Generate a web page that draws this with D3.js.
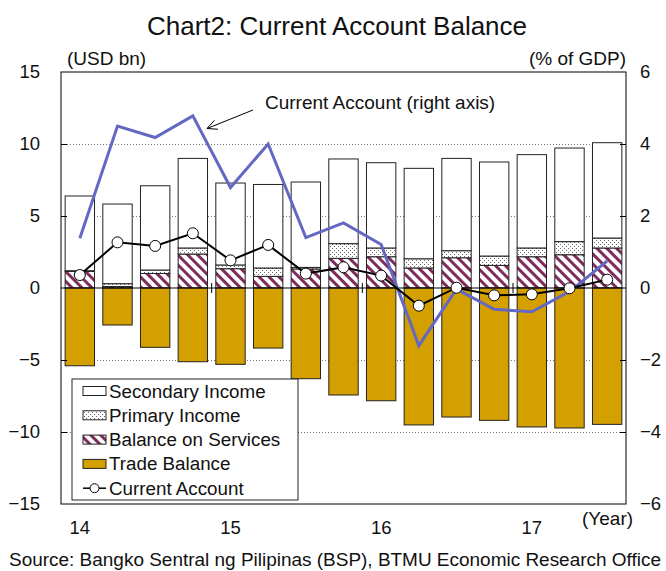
<!DOCTYPE html>
<html>
<head>
<meta charset="utf-8">
<script src="https://cdn.jsdelivr.net/npm/d3@7"></script>
<style>
  html, body { margin: 0; padding: 0; background: #fff; }
  svg { display: block; font-family: "Liberation Sans", Arial, sans-serif; }
</style>
</head>
<body>
<svg id="chart" width="666" height="571"></svg>
<script>
// Philippines current account by quarter, 2014Q1 - 2017Q3
const quarters = ["14Q1","14Q2","14Q3","14Q4","15Q1","15Q2","15Q3","15Q4",
                  "16Q1","16Q2","16Q3","16Q4","17Q1","17Q2","17Q3"];
const yearLabels = [["14Q1","14"],["15Q1","15"],["16Q1","16"],["17Q1","17"]];

// USD bn
const tradeBalance   = [-5.40,-2.57,-4.12,-5.12,-5.30,-4.17,-6.30,-7.43,-7.83,-9.51,-8.96,-9.19,-9.65,-9.72,-9.47];
const services       = [1.15, 0.10, 1.01, 2.36, 1.34, 0.81, 1.32, 2.06, 2.17, 1.39, 2.10, 1.57, 2.17, 2.31, 2.78];
const primaryIncome  = [0.05, 0.20, 0.24, 0.42, 0.26, 0.58, 0.11, 1.02, 0.61, 0.64, 0.49, 0.65, 0.61, 0.91, 0.69];
const secondaryIncome= [5.19, 5.53, 5.85, 6.22, 5.69, 5.80, 5.93, 5.88, 5.92, 6.28, 6.41, 6.53, 6.48, 6.50, 6.62];
const currentAccount = [0.90, 3.17, 2.92, 3.80, 1.92, 2.99, 1.00, 1.44, 0.86,-1.23, 0.02,-0.51,-0.44,-0.02, 0.58];
// % of GDP
const currentAccountGdp = [1.38, 4.50, 4.18, 4.78, 2.79, 4.00, 1.40, 1.81, 1.21,-1.60,-0.03,-0.59,-0.66,-0.10, 0.75];

const leftTicks  = [15, 10, 5, 0, -5, -10, -15];
const rightTicks = [6, 4, 2, 0, -2, -4, -6];

const svg = d3.select("#chart");
const plot = { left: 61, right: 626, top: 72, bottom: 504 };

const x = d3.scaleBand().domain(quarters)
  .range([plot.left, plot.right]).paddingInner(0.22).paddingOuter(0.11);
const y = d3.scaleLinear().domain([-15, 15]).range([plot.bottom, plot.top]);
const y2 = d3.scaleLinear().domain([-6, 6]).range([plot.bottom, plot.top]);

const GOLD = "#d4a000", MAROON = "#7e2c5c", BLUE = "#6468c2";

// fill patterns
const defs = svg.append("defs");
const hatch = defs.append("pattern").attr("id", "hatch")
  .attr("patternUnits", "userSpaceOnUse").attr("width", 7).attr("height", 7)
  .attr("patternTransform", "rotate(-45)");
hatch.append("rect").attr("width", 7).attr("height", 7).attr("fill", "#fff");
hatch.append("rect").attr("width", 3).attr("height", 7).attr("fill", MAROON);

const dots = defs.append("pattern").attr("id", "dots")
  .attr("patternUnits", "userSpaceOnUse").attr("width", 4).attr("height", 4);
dots.append("rect").attr("width", 4).attr("height", 4).attr("fill", "#fff");
dots.append("rect").attr("x", 0).attr("y", 0).attr("width", 1).attr("height", 1).attr("fill", "#666");
dots.append("rect").attr("x", 2).attr("y", 2).attr("width", 1).attr("height", 1).attr("fill", "#666");

// title
svg.append("text").attr("x", 337).attr("y", 35).attr("text-anchor", "middle")
  .attr("font-size", 26).attr("fill", "#111").text("Chart2: Current Account Balance");

svg.append("text").attr("x", 67).attr("y", 65).attr("font-size", 19).attr("fill", "#111").text("(USD bn)");
svg.append("text").attr("x", 626).attr("y", 65).attr("text-anchor", "end")
  .attr("font-size", 19).attr("fill", "#111").text("(% of GDP)");

// gridlines
svg.append("g").selectAll("line").data([10, 5, -5, -10]).join("line")
  .attr("x1", plot.left).attr("x2", plot.right)
  .attr("y1", d => y(d) + 0.5).attr("y2", d => y(d) + 0.5)
  .attr("stroke", "#777").attr("stroke-width", 1).attr("stroke-dasharray", "1,2");

// stacked bars
const stackDefs = [
  { key: "services", vals: services, fill: "url(#hatch)" },
  { key: "primary", vals: primaryIncome, fill: "url(#dots)" },
  { key: "secondary", vals: secondaryIncome, fill: "#fff" }
];
const bars = svg.append("g");
quarters.forEach((q, i) => {
  let base = 0;
  stackDefs.forEach(s => {
    const v = s.vals[i];
    bars.append("rect")
      .attr("x", x(q)).attr("width", x.bandwidth())
      .attr("y", y(base + v)).attr("height", y(base) - y(base + v))
      .attr("fill", s.fill).attr("stroke", "#222").attr("stroke-width", 1);
    base += v;
  });
  bars.append("rect")
    .attr("x", x(q)).attr("width", x.bandwidth())
    .attr("y", y(0)).attr("height", y(tradeBalance[i]) - y(0))
    .attr("fill", GOLD).attr("stroke", "#222").attr("stroke-width", 1);
});

// zero line and year separators
svg.append("line").attr("x1", plot.left).attr("x2", plot.right)
  .attr("y1", y(0)).attr("y2", y(0)).attr("stroke", "#000").attr("stroke-width", 1.2);
svg.append("g").selectAll("line").data(["15Q1", "16Q1", "17Q1"]).join("line")
  .attr("x1", d => x(d) - x.step() * x.paddingInner() / 2)
  .attr("x2", d => x(d) - x.step() * x.paddingInner() / 2)
  .attr("y1", y(0) - 5).attr("y2", y(0) + 5).attr("stroke", "#000");

// frame
svg.append("rect").attr("x", plot.left).attr("y", plot.top)
  .attr("width", plot.right - plot.left).attr("height", plot.bottom - plot.top)
  .attr("fill", "none").attr("stroke", "#000").attr("stroke-width", 1);

// axes
const leftAxis = d3.axisLeft(y).tickValues(leftTicks).tickSize(-6).tickPadding(21);
const gl = svg.append("g").attr("transform", `translate(${plot.left},0)`).call(leftAxis);
const rightAxis = d3.axisRight(y2).tickValues(rightTicks).tickSize(-6).tickPadding(14);
const gr = svg.append("g").attr("transform", `translate(${plot.right},0)`).call(rightAxis);
[gl, gr].forEach(g => {
  g.select(".domain").remove();
  g.selectAll("text").attr("font-size", 18.5).attr("fill", "#111")
    .attr("font-family", "Liberation Sans, Arial, sans-serif");
  g.selectAll("line").attr("stroke", "#000");
});
gl.selectAll(".tick").filter(d => d === 15 || d === -15 || d === 0).select("line").remove();
gr.selectAll(".tick").filter(d => d === 6 || d === -6 || d === 0).select("line").remove();

// year labels
svg.append("g").selectAll("text").data(yearLabels).join("text")
  .attr("x", d => x(d[0]) + x.bandwidth() / 2).attr("y", 534)
  .attr("text-anchor", "middle").attr("font-size", 18.5).attr("fill", "#111").text(d => d[1]);
svg.append("text").attr("x", 582).attr("y", 525).attr("font-size", 19).attr("fill", "#111").text("(Year)");

// current account, % of GDP (right axis)
const cx = (d, i) => x(quarters[i]) + x.bandwidth() / 2;
svg.append("path").datum(currentAccountGdp)
  .attr("d", d3.line().x(cx).y(d => y2(d)))
  .attr("fill", "none").attr("stroke", BLUE).attr("stroke-width", 3).attr("stroke-linejoin", "miter");

// current account, USD bn
svg.append("path").datum(currentAccount)
  .attr("d", d3.line().x(cx).y(d => y(d)))
  .attr("fill", "none").attr("stroke", "#000").attr("stroke-width", 2);
svg.append("g").selectAll("circle").data(currentAccount).join("circle")
  .attr("cx", cx).attr("cy", d => y(d)).attr("r", 5.5)
  .attr("fill", "#fff").attr("stroke", "#000").attr("stroke-width", 1);

// annotation
svg.append("text").attr("x", 265).attr("y", 109).attr("font-size", 19).attr("fill", "#111")
  .text("Current Account (right axis)");
const ax1 = 253, ay1 = 110, ax2 = 207, ay2 = 128.5;
svg.append("line").attr("x1", ax1).attr("y1", ay1).attr("x2", ax2).attr("y2", ay2)
  .attr("stroke", "#000").attr("stroke-width", 1);
const ang = Math.atan2(ay1 - ay2, ax1 - ax2);
[0.45, -0.45].forEach(o => {
  svg.append("line").attr("x1", ax2).attr("y1", ay2)
    .attr("x2", ax2 + 11 * Math.cos(ang + o)).attr("y2", ay2 + 11 * Math.sin(ang + o))
    .attr("stroke", "#000").attr("stroke-width", 1);
});

// legend
const legend = svg.append("g");
legend.append("rect").attr("x", 72).attr("y", 379).attr("width", 226).attr("height", 121)
  .attr("fill", "#fff").attr("stroke", "#222").attr("stroke-width", 1);
const legendItems = [
  { label: "Secondary Income", fill: "#fff" },
  { label: "Primary Income", fill: "url(#dots)" },
  { label: "Balance on Services", fill: "url(#hatch)" },
  { label: "Trade Balance", fill: GOLD },
  { label: "Current Account", line: true }
];
legendItems.forEach((it, i) => {
  const cy = 391 + i * 24.3;
  if (it.line) {
    legend.append("line").attr("x1", 83).attr("x2", 106).attr("y1", cy).attr("y2", cy)
      .attr("stroke", "#000").attr("stroke-width", 1.5);
    legend.append("circle").attr("cx", 94.5).attr("cy", cy).attr("r", 4.5)
      .attr("fill", "#fff").attr("stroke", "#000");
  } else {
    legend.append("rect").attr("x", 83).attr("y", cy - 4.5).attr("width", 23).attr("height", 9)
      .attr("fill", it.fill).attr("stroke", "#222").attr("stroke-width", 1);
  }
  legend.append("text").attr("x", 109).attr("y", cy + 6.5).attr("font-size", 18.8)
    .attr("fill", "#111").text(it.label);
});

// source
svg.append("text").attr("x", 9).attr("y", 566).attr("font-size", 17.5).attr("fill", "#111")
  .attr("textLength", 652).attr("lengthAdjust", "spacingAndGlyphs")
  .text("Source: Bangko Sentral ng Pilipinas (BSP), BTMU Economic Research Office");
</script>
</body>
</html>
